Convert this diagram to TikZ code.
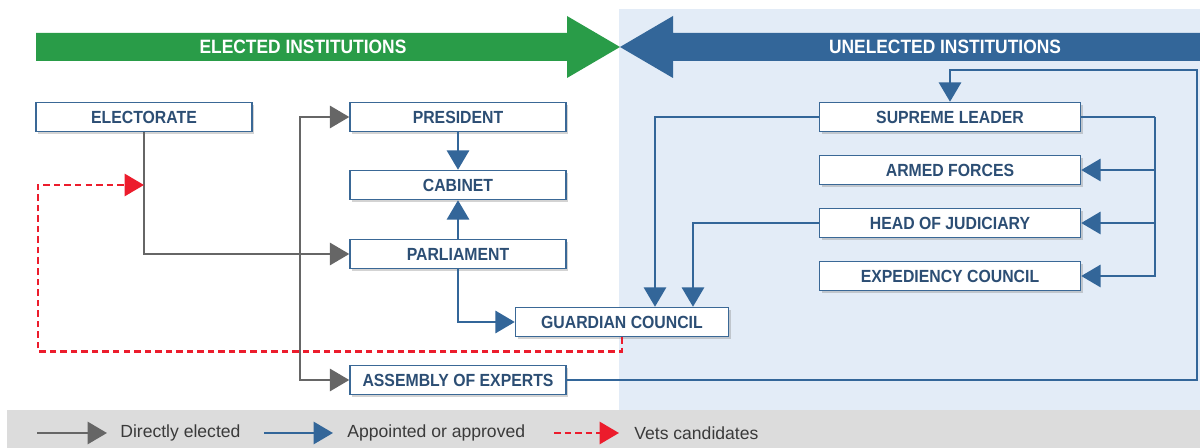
\documentclass[tikz,border=0pt]{standalone}
\usepackage{fontspec}
\setmainfont{Liberation Sans}
\newfontfamily\narrowfont[FakeStretch=0.9]{Liberation Sans}
\usetikzlibrary{arrows.meta,positioning,shadows,calc}
\definecolor{boxline}{RGB}{58,104,150}
\definecolor{boxtext}{RGB}{44,78,116}
\definecolor{apblue}{RGB}{51,102,153}
\definecolor{elgray}{RGB}{102,102,102}
\definecolor{vetred}{RGB}{236,28,44}
\definecolor{bannergreen}{RGB}{41,156,72}
\definecolor{unelectedbg}{RGB}{227,236,247}
\definecolor{legendbg}{RGB}{220,220,220}
\definecolor{legendtext}{RGB}{58,58,58}

\begin{document}
\begin{tikzpicture}[
    x=0.02cm, y=-0.02cm,
    box/.style={rectangle, draw=boxline, line width=0.8pt, fill=white, text=boxtext, minimum width=4.32cm, minimum height=0.58cm, inner sep=0pt, font=\narrowfont\fontsize{10}{11}\selectfont\bfseries, drop shadow={shadow xshift=1.3pt, shadow yshift=-1.3pt, opacity=0.35}},
    wide/.style={box, minimum width=5.22cm},
    elect/.style={-{Triangle[length=11pt,width=12.5pt]}, line width=1.6pt, draw=elgray},
    appoint/.style={-{Triangle[length=11pt,width=12.5pt]}, line width=1.6pt, draw=apblue},
    vets/.style={-{Triangle[length=11pt,width=12.5pt]}, line width=1.6pt, draw=vetred, dash pattern=on 3.7pt off 2.3pt},
    banner/.style={text=white, font=\narrowfont\fontsize{11}{12}\selectfont\bfseries},
    legend/.style={text=legendtext, inner sep=0pt, anchor=west, font=\fontsize{10}{12}\selectfont}
]
    \useasboundingbox (0,0) rectangle (1200,448);

    % backgrounds
    \fill[unelectedbg] (619,9) rectangle (1200,410);
    \fill[legendbg] (7,410) rectangle (1200,448);

    % banners
    \fill[bannergreen] (36,33) -- (567,33) -- (567,16) -- (620,47) -- (567,78) -- (567,61) -- (36,61) -- cycle;
    \fill[apblue] (1200,33) -- (673,33) -- (673,16) -- (620,47) -- (673,78) -- (673,61) -- (1200,61) -- cycle;
    \node[banner] (electedlbl) at (303,47) {ELECTED INSTITUTIONS};
    \node[banner] (unelectedlbl) at (945,47) {UNELECTED INSTITUTIONS};

    % elected side
    \node[box] (electorate) at (144,117) {ELECTORATE};
    \node[box] (president) at (458,117) {PRESIDENT};
    \node[box] (cabinet) at (458,185) {CABINET};
    \node[box] (parliament) at (458,254) {PARLIAMENT};
    \node[box, minimum width=4.26cm] (guardian) at (622,322) {GUARDIAN COUNCIL};
    \node[box] (assembly) at (458,380) {ASSEMBLY OF EXPERTS};

    % unelected side
    \node[wide] (supreme) at (950,117) {SUPREME LEADER};
    \node[wide] (armed) at (950,170) {ARMED FORCES};
    \node[wide] (judiciary) at (950,223) {HEAD OF JUDICIARY};
    \node[wide] (expediency) at (950,276) {EXPEDIENCY COUNCIL};

    % directly elected
    \coordinate (split) at (300,254);
    \draw[elect] (electorate.south) |- (parliament.west);
    \draw[elect] (split) |- (president.west);
    \draw[elect] (split) |- (assembly.west);

    % vets candidates
    \coordinate (vetpoint) at (144,185);
    \draw[vets] (guardian.south) -- ++(0,14) -| (38,185) -- (vetpoint);

    % appointed or approved
    \draw[appoint] (president) -- (cabinet);
    \draw[appoint] (parliament) -- (cabinet);
    \draw[appoint] (parliament.south) |- (guardian.west);
    \draw[appoint] (supreme.west) -| ([xshift=0.66cm]guardian.north);
    \draw[appoint] (judiciary.west) -| ([xshift=1.42cm]guardian.north);
    \coordinate (bus) at (1155,117);
    \draw[appoint, -] (supreme.east) -- (bus);
    \foreach \n in {armed,judiciary,expediency}
        \draw[appoint] (bus) |- (\n.east);
    \coordinate (loop) at (1197,70);
    \draw[appoint] (assembly.east) -| (loop) -| (supreme.north);

    % legend
    \node[legend] (lgelect) at (120,433) {Directly elected};
    \node[legend] (lgappoint) at (347,433) {Appointed or approved};
    \node[legend] (lgvets) at (634,433) {Vets candidates};
    \coordinate (lgelectA) at (37,433);
    \coordinate (lgappointA) at (264,433);
    \coordinate (lgvetsA) at (554,433);
    \draw[elect] (lgelectA) -- ([xshift=-0.26cm]lgelect.west);
    \draw[appoint] (lgappointA) -- ([xshift=-0.28cm]lgappoint.west);
    \draw[vets] (lgvetsA) -- ([xshift=-0.3cm]lgvets.west);
\end{tikzpicture}
\end{document}
